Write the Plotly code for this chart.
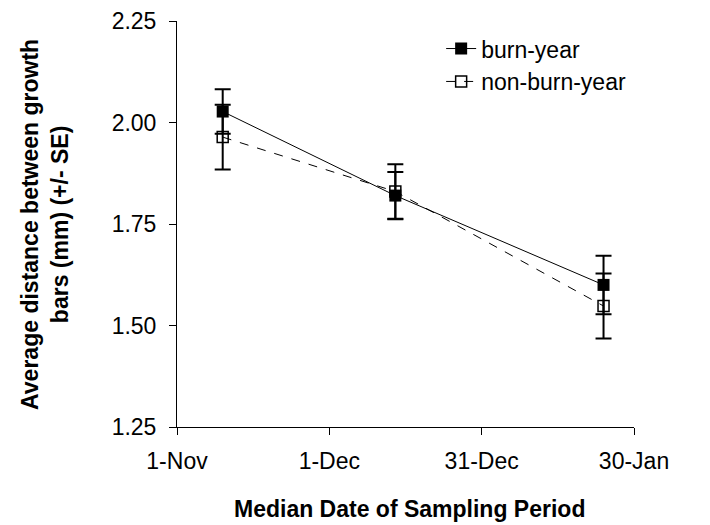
import plotly.graph_objects as go

# Median sampling dates and mean growth-bar distances (mm) with SE
dates = ["2003-11-10", "2003-12-14", "2004-01-24"]

burn_mean = [2.027, 1.820, 1.600]
burn_se = [0.055, 0.058, 0.072]

nonburn_mean = [1.964, 1.830, 1.548]
nonburn_se = [0.080, 0.067, 0.080]

tick_dates = ["2003-11-01", "2003-12-01", "2003-12-31", "2004-01-30"]
tick_labels = ["1-Nov", "1-Dec", "31-Dec", "30-Jan"]
y_ticks = [1.25, 1.50, 1.75, 2.00, 2.25]

FONT = "Liberation Sans, Arial, sans-serif"

fig = go.Figure()

fig.add_trace(go.Scatter(
    x=dates,
    y=burn_mean,
    error_y=dict(type="data", array=burn_se, color="black", thickness=2, width=8),
    mode="lines+markers",
    name="burn-year",
    line=dict(color="black", width=1),
    marker=dict(symbol="square", size=12, color="black"),
))

fig.add_trace(go.Scatter(
    x=dates,
    y=nonburn_mean,
    error_y=dict(type="data", array=nonburn_se, color="black", thickness=2, width=8),
    mode="lines+markers",
    name="non-burn-year",
    line=dict(color="black", width=1, dash="dash"),
    marker=dict(symbol="square-open", size=11, color="black", line=dict(width=1.5)),
))

fig.update_layout(
    width=710,
    height=525,
    margin=dict(l=177, r=76, t=21, b=98),
    plot_bgcolor="white",
    paper_bgcolor="white",
    font=dict(family=FONT, size=23, color="black"),
    showlegend=True,
    legend=dict(
        x=0.578, y=0.985, xanchor="left", yanchor="top",
        bgcolor="rgba(0,0,0,0)", font=dict(size=23),
        tracegroupgap=0,
    ),
    xaxis=dict(
        type="date",
        range=["2003-11-01", "2004-01-30"],
        tickvals=tick_dates,
        ticktext=tick_labels,
        showline=True, linecolor="black", linewidth=1,
        ticks="outside", ticklen=7, tickcolor="black",
        ticklabelstandoff=6,
        showgrid=False, zeroline=False, automargin=False,
    ),
    yaxis=dict(
        range=[1.25, 2.25],
        tickvals=y_ticks,
        tickformat=".2f",
        showline=True, linecolor="black", linewidth=1,
        ticks="outside", ticklen=7, tickcolor="black",
        ticklabelstandoff=8,
        showgrid=False, zeroline=False, automargin=False,
    ),
    annotations=[
        dict(
            text="<b>Average distance between growth<br>bars (mm) (+/- SE)</b>",
            xref="paper", yref="paper", x=-0.289, y=0.5,
            xanchor="center", yanchor="middle", textangle=-90,
            showarrow=False, font=dict(size=23),
        ),
        dict(
            text="<b>Median Date of Sampling Period</b>",
            xref="paper", yref="paper", x=0.508, y=-0.202,
            xanchor="center", yanchor="middle",
            showarrow=False, font=dict(size=23),
        ),
    ],
)

# drop the browser's default body margin so the 710x525 figure fills the window
fig.write_html(
    "out.html",
    config={"displayModeBar": False},
    post_script="document.body.style.margin = '0px';",
)
